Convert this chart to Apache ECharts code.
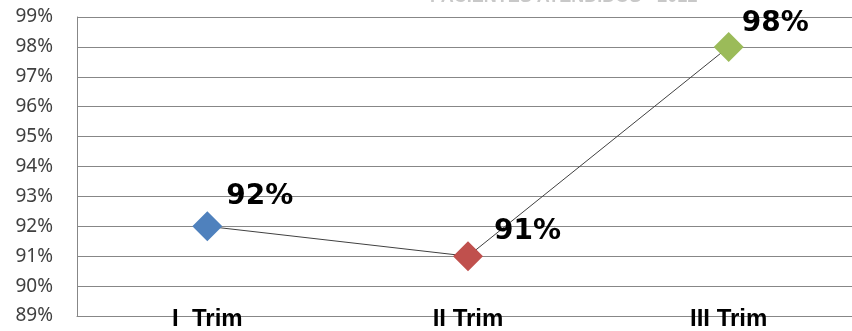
<!DOCTYPE html>
<html>
<head>
<meta charset="utf-8">
<script src="https://cdn.jsdelivr.net/npm/echarts@6/dist/echarts.min.js"></script>
<style>
  html, body { margin: 0; padding: 0; background: #fff; }
  #chart { width: 852px; height: 331px; }
</style>
</head>
<body>
<div id="chart"></div>
<script>
// datos
var categories = ["I  Trim", "II Trim", "III Trim"];
var values = [92, 91, 98];
var yMin = 89, yMax = 99, yStep = 1;
var markerColors = ["#4F81BD", "#C0504D", "#9BBB59"];
// desplazamiento de etiquetas (movidas a mano en el original)
var labelOffsets = [[-1, -30], [6, -24], [-7, -23]];

var chart = echarts.init(document.getElementById("chart"));

var seriesData = values.map(function (v, i) {
  return {
    value: v,
    itemStyle: { color: markerColors[i] },
    label: { offset: labelOffsets[i] }
  };
});

var option = {
  animation: false,
  title: {
    text: "PACIENTES ATENDIDOS - 2012",
    left: 425,
    top: -17,
    textStyle: { color: "#c8c8c8", fontSize: 18, fontWeight: "bold", fontFamily: "Liberation Sans" }
  },
  grid: { left: 77, width: 782, top: 17, bottom: 15, outerBoundsMode: "none" },
  xAxis: {
    type: "category",
    data: categories,
    boundaryGap: true,
    axisLine: { lineStyle: { color: "#878787", width: 1 } },
    axisTick: { show: false },
    axisLabel: {
      margin: -9,
      color: "#000",
      fontSize: 24,
      fontWeight: "bold",
      fontFamily: "Liberation Sans Narrow, Arial Narrow, sans-serif"
    },
    z: 1
  },
  yAxis: {
    type: "value",
    min: yMin,
    max: yMax,
    interval: yStep,
    axisLine: { show: true, lineStyle: { color: "#878787" } },
    axisTick: { show: false },
    axisLabel: {
      formatter: "{value}%",
      margin: 24,
      color: "#404040",
      fontSize: 19,
      fontFamily: "Noto Sans"
    },
    splitLine: { lineStyle: { color: "#878787", width: 1 } }
  },
  series: [{
    type: "line",
    data: seriesData,
    symbol: "diamond",
    symbolSize: 30,
    lineStyle: { color: "#404040", width: 1 },
    label: {
      show: true,
      position: "right",
      formatter: "{c}%",
      color: "#000",
      fontSize: 28,
      fontWeight: "bold",
      fontFamily: "DejaVu Sans"
    },
    z: 3
  }]
};

chart.setOption(option);
</script>
</body>
</html>
